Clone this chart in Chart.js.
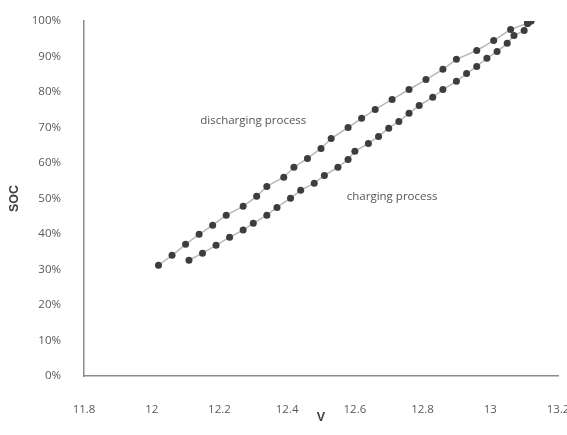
<!DOCTYPE html>
<html lang="en">
<head>
  <meta charset="UTF-8">
  <title>SOC vs V</title>
  <script src="https://cdn.jsdelivr.net/npm/chart.js@4.4.0/dist/chart.umd.min.js"></script>
  <style>
    html, body { margin: 0; padding: 0; background: #fff; }
    .chart-wrap { width: 567px; height: 435px; }
  </style>
</head>
<body>
  <div class="chart-wrap">
    <canvas id="socChart"></canvas>
  </div>

  <script>
    // discharging process (upper curve)
    const dischargeV = [12.02, 12.06, 12.10, 12.14, 12.18, 12.22, 12.27, 12.31, 12.34, 12.39,
      12.42, 12.46, 12.50, 12.53, 12.58, 12.62, 12.66, 12.71, 12.76, 12.81,
      12.86, 12.90, 12.96, 13.01, 13.06, 13.11, 13.12];
    const dischargeSOC = [31.2, 34.0, 37.1, 39.9, 42.5, 45.3, 47.8, 50.6, 53.4, 56.0,
      58.8, 61.3, 64.1, 66.9, 70.0, 72.6, 75.1, 77.9, 80.7, 83.5,
      86.4, 89.2, 91.7, 94.5, 97.6, 99.4, 100];

    // charging process (lower curve)
    const chargeV = [12.11, 12.15, 12.19, 12.23, 12.27, 12.30, 12.34, 12.37, 12.41, 12.44,
      12.48, 12.51, 12.55, 12.58, 12.60, 12.64, 12.67, 12.70, 12.73, 12.76,
      12.79, 12.83, 12.86, 12.90, 12.93, 12.96, 12.99, 13.02, 13.05, 13.07,
      13.10, 13.11, 13.12];
    const chargeSOC = [32.6, 34.6, 36.8, 39.1, 41.1, 43.0, 45.3, 47.5, 50.1, 52.3,
      54.3, 56.5, 58.8, 61.0, 63.3, 65.5, 67.5, 69.8, 71.7, 74.0,
      76.2, 78.5, 80.7, 83.0, 85.2, 87.2, 89.5, 91.4, 93.7, 95.9,
      97.3, 99.3, 100];

    // text notes placed in data coordinates
    const noteText = ['discharging process', 'charging process'];
    const noteV = [12.30, 12.71];
    const noteSOC = [72.0, 50.4];

    function toPoints(xs, ys) {
      return xs.map((x, i) => ({ x: x, y: ys[i] }));
    }

    const tickFont = { family: 'Open Sans', size: 11.5 };
    const titleFont = { family: 'Liberation Sans', size: 12.5, weight: 'bold' };

    // 注記テキストを描くプラグイン
    const notesPlugin = {
      id: 'notes',
      afterDatasetsDraw(chart) {
        const { ctx, scales } = chart;
        ctx.save();
        ctx.font = '11.5px "Open Sans"';
        ctx.fillStyle = '#555555';
        ctx.textAlign = 'center';
        ctx.textBaseline = 'middle';
        noteText.forEach((t, i) => {
          ctx.fillText(t, scales.x.getPixelForValue(noteV[i]), scales.y.getPixelForValue(noteSOC[i]));
        });
        ctx.restore();
      }
    };

    const seriesStyle = {
      showLine: true,
      borderColor: '#b8b8b8',
      borderWidth: 1.5,
      pointRadius: 3.5,
      pointBackgroundColor: '#3d3d3d',
      pointBorderWidth: 0,
      tension: 0
    };

    new Chart(document.getElementById('socChart'), {
      type: 'scatter',
      data: {
        datasets: [
          Object.assign({ label: 'discharging process', data: toPoints(dischargeV, dischargeSOC) }, seriesStyle),
          Object.assign({ label: 'charging process', data: toPoints(chargeV, chargeSOC) }, seriesStyle)
        ]
      },
      options: {
        responsive: true,
        maintainAspectRatio: false,
        animation: false,
        layout: { padding: { top: 21, right: 9, left: 0, bottom: 0 } },
        plugins: {
          legend: { display: false },
          tooltip: { enabled: false }
        },
        scales: {
          x: {
            type: 'linear',
            min: 11.8,
            max: 13.2,
            grid: { display: false },
            border: { display: true, color: '#8c8c8c', width: 1.5 },
            ticks: {
              stepSize: 0.2,
              padding: 19,
              color: '#595959',
              font: tickFont,
              maxRotation: 0,
              callback: v => String(Number(v.toFixed(1)))
            },
            title: { display: true, text: 'V', color: '#404040', font: titleFont, padding: { top: 0, bottom: 10 } },
            afterFit: scale => {
              scale.height = 59;
              scale.paddingRight = 0;
              scale.paddingLeft = 0;
            }
          },
          y: {
            min: 0,
            max: 100,
            grid: { display: false },
            border: { display: true, color: '#8c8c8c', width: 1.5 },
            ticks: {
              stepSize: 10,
              padding: 15,
              color: '#595959',
              font: tickFont,
              callback: v => v + '%'
            },
            title: { display: true, text: 'SOC', color: '#404040', font: titleFont, padding: { top: 7, bottom: 0 } },
            afterFit: scale => {
              scale.width = 84;
              scale.paddingTop = 0;
              scale.paddingBottom = 0;
            }
          }
        }
      },
      plugins: [notesPlugin]
    });
  </script>
</body>
</html>
